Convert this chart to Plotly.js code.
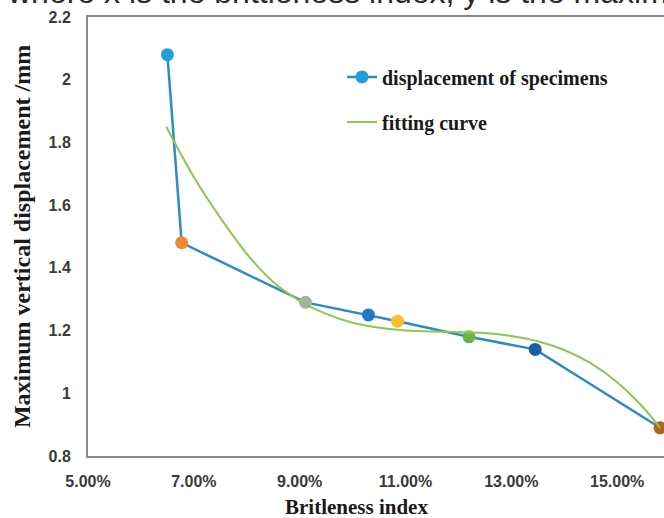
<!DOCTYPE html>
<html>
<head>
<meta charset="utf-8">
<script src="https://cdn.plot.ly/plotly-3.0.1.min.js"></script>
<style>
  html, body { margin: 0; padding: 0; background: #fff; overflow: hidden; }
  #chart { width: 724px; height: 518px; }
</style>
</head>
<body>
<div id="chart"></div>
<script>
// Measured specimens: brittleness index vs. maximum vertical displacement
var brittleness = [0.0650, 0.0677, 0.0911, 0.1030, 0.1085, 0.1220, 0.1345, 0.1581];
var displacement = [2.08, 1.48, 1.29, 1.25, 1.23, 1.18, 1.14, 0.89];
var pointColors = ['#1E9DDF', '#F0892E', '#AAB0AA', '#1F79CA', '#F9C125', '#6FB14B', '#1F5E9E', '#B0651C'];

// Fitted trend curve through the measurements
var fitX = [0.0648, 0.0700, 0.0750, 0.0800, 0.0850, 0.0900, 0.0950, 0.1000, 0.1050, 0.1100,
            0.1150, 0.1200, 0.1250, 0.1300, 0.1350, 0.1400, 0.1450, 0.1500, 0.1550, 0.1581];
var fitY = [1.85, 1.69, 1.56, 1.445, 1.355, 1.295, 1.253, 1.225, 1.209, 1.200,
            1.197, 1.195, 1.192, 1.183, 1.166, 1.138, 1.096, 1.035, 0.953, 0.89];

var yTicks = [0.8, 1, 1.2, 1.4, 1.6, 1.8, 2, 2.2];
var xTicks = [0.05, 0.07, 0.09, 0.11, 0.13, 0.15];

var serif = 'Liberation Serif, Times New Roman, serif';
var tickFont = { family: 'Liberation Sans, Arial, sans-serif', size: 16, color: '#3a3a3a', weight: 'bold' };

var traces = [
  {
    x: brittleness, y: displacement,
    type: 'scatter', mode: 'lines+markers',
    name: 'displacement of specimens',
    legendgroup: 'a',
    line: { color: '#2F8CC2', width: 2.5 },
    marker: { color: pointColors, size: 13, line: { width: 0 } }
  },
  {
    x: fitX, y: fitY,
    type: 'scatter', mode: 'lines',
    name: 'fitting curve',
    legendgroup: 'b',
    line: { color: '#8DC653', width: 2, shape: 'spline', smoothing: 1 }
  }
];

var layout = {
  width: 724, height: 518,
  margin: { l: 88, r: 1, t: 17, b: 62 },
  paper_bgcolor: '#ffffff', plot_bgcolor: '#ffffff',
  showlegend: true,
  legend: {
    x: 0.40, y: 0.908, xanchor: 'left', yanchor: 'top',
    bgcolor: 'rgba(255,255,255,0)',
    font: { family: serif, size: 20, color: '#1a1a1a', weight: 'bold' },
    itemwidth: 30,
    traceorder: 'grouped',
    tracegroupgap: 16
  },
  xaxis: {
    range: [0.05, 0.17],
    tickvals: xTicks,
    tickformat: '.2%',
    tickfont: tickFont,
    ticks: '',
    ticklabelstandoff: 10,
    showgrid: false, zeroline: false,
    showline: true, linecolor: '#8a8a8a', linewidth: 2, mirror: true
  },
  yaxis: {
    range: [0.8, 2.2],
    tickvals: yTicks,
    ticktext: yTicks.map(String),
    tickfont: tickFont,
    ticks: '',
    ticklabelstandoff: 12,
    showgrid: false, zeroline: false,
    showline: true, linecolor: '#8a8a8a', linewidth: 2, mirror: true,
    title: { text: 'Maximum vertical displacement /mm', font: { family: serif, size: 24, color: '#1a1a1a', weight: 'bold' }, standoff: 11 }
  },
  annotations: [
    {
      text: 'Britleness index',
      xref: 'paper', yref: 'paper',
      x: 0.4236, y: -0.116, xanchor: 'center', yanchor: 'middle',
      showarrow: false,
      font: { family: serif, size: 21, color: '#1a1a1a', weight: 'bold' }
    },
    {
      text: 'where x is the brittleness index, y is the maximum vertical displacement',
      xref: 'paper', yref: 'paper',
      x: -0.131, y: 1.012, xanchor: 'left', yanchor: 'bottom',
      showarrow: false,
      font: { family: 'Liberation Sans, Arial, sans-serif', size: 32, color: '#2a2a2a' }
    }
  ]
};

Plotly.newPlot('chart', traces, layout, { displayModeBar: false, staticPlot: true });
</script>
</body>
</html>
